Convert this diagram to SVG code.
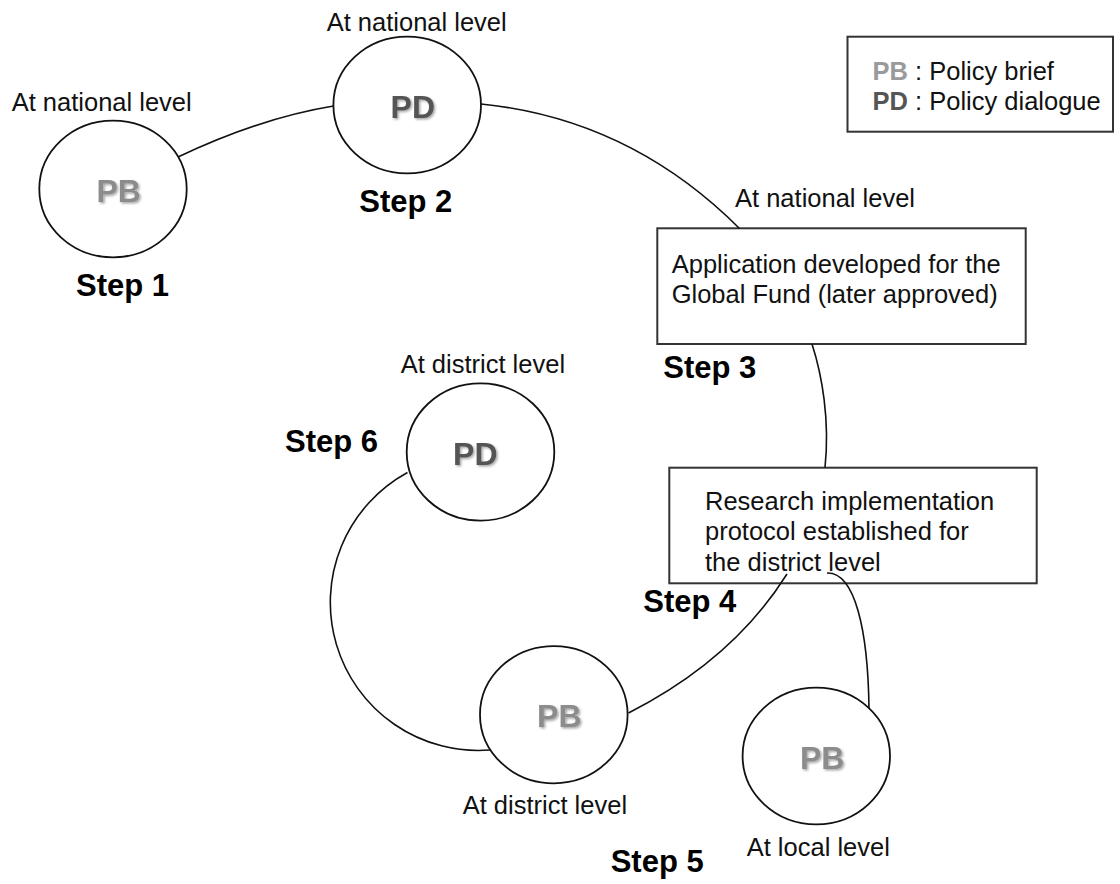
<svg xmlns="http://www.w3.org/2000/svg" width="1120" height="884" viewBox="0 0 1120 884">
  <defs>
    <filter id="sh" x="-20%" y="-20%" width="140%" height="140%">
      <feDropShadow dx="1.5" dy="1.5" stdDeviation="0.8" flood-color="#000" flood-opacity="0.35"/>
    </filter>
  </defs>
  <style>
    .t { font-family: "Liberation Sans", Arial, sans-serif; font-size: 25.5px; fill: #111; }
    .step { font-family: "Liberation Sans", Arial, sans-serif; font-size: 31px; font-weight: bold; fill: #000; }
    .pb { font-family: "Liberation Sans", Arial, sans-serif; font-size: 32px; font-weight: bold; fill: #8c8c8c; text-anchor: middle; filter: url(#sh); }
    .pd { font-family: "Liberation Sans", Arial, sans-serif; font-size: 32px; font-weight: bold; fill: #555; text-anchor: middle; filter: url(#sh); }
    .node { fill: #fff; stroke: #111; stroke-width: 1.8; }
    .box { fill: #fff; stroke: #333; stroke-width: 2; }
    .edge { fill: none; stroke: #111; stroke-width: 1.6; }
  </style>
  <rect width="1120" height="884" fill="#fff"/>

  <g id="legend">
    <rect class="box" x="847.5" y="36.7" width="265.5" height="95"/>
    <text class="t" x="872.5" y="80"><tspan font-weight="bold" fill="#9a9a9a">PB</tspan> : Policy brief</text>
    <text class="t" x="872.5" y="110"><tspan font-weight="bold" fill="#555">PD</tspan> : Policy dialogue</text>
  </g>

  <g id="step1">
    <text class="t" x="11.7" y="110.7">At national level</text>
    <ellipse class="node" cx="113" cy="189" rx="73.7" ry="68.3"/>
    <text class="pb" x="118.7" y="201.7">PB</text>
    <text class="step" x="76" y="296">Step 1</text>
  </g>

  <g id="step2">
    <text class="t" x="326.7" y="30.7">At national level</text>
    <ellipse class="node" cx="407.2" cy="105" rx="73.8" ry="68.3"/>
    <text class="pd" x="412.8" y="118.3">PD</text>
    <text class="step" x="359.3" y="211.7">Step 2</text>
  </g>

  <g id="step3">
    <text class="t" x="735" y="207">At national level</text>
    <rect class="box" x="657.3" y="228.3" width="368.4" height="115.7"/>
    <text class="t" x="671.7" y="273.3">Application developed for the</text>
    <text class="t" x="671.7" y="303.3">Global Fund (later approved)</text>
    <text class="step" x="663.3" y="378.3">Step 3</text>
  </g>

  <g id="step4">
    <rect class="box" x="669.3" y="467.7" width="367.4" height="115.6"/>
    <text class="t" x="705" y="510">Research implementation</text>
    <text class="t" x="705" y="540">protocol established for</text>
    <text class="t" x="705" y="570.7">the district level</text>
    <text class="step" x="643.3" y="611.7">Step 4</text>
  </g>

  <g id="step5-district">
    <ellipse class="node" cx="553.8" cy="714.7" rx="73.8" ry="68.6"/>
    <text class="pb" x="559.3" y="727.3">PB</text>
    <text class="t" x="462.7" y="814">At district level</text>
  </g>

  <g id="step5-local">
    <ellipse class="node" cx="816.3" cy="756" rx="73.7" ry="68.3"/>
    <text class="pb" x="822.2" y="769.3">PB</text>
    <text class="t" x="746.7" y="856">At local level</text>
  </g>

  <g id="step5-label">
    <text class="step" x="610.7" y="871.7">Step 5</text>
  </g>

  <g id="step6">
    <text class="t" x="400.7" y="373.3">At district level</text>
    <ellipse class="node" cx="480.5" cy="452" rx="73.8" ry="68.6"/>
    <text class="pd" x="475.3" y="465">PD</text>
    <text class="step" x="285" y="452">Step 6</text>
  </g>

  <g id="connectors">
    <path class="edge" d="M178,157 Q260,118 333.5,106"/>
    <path class="edge" d="M481,104 Q630,119 739.5,228.5"/>
    <path class="edge" d="M812,344 C822,375 830,420 825,467.5"/>
    <path class="edge" d="M787,574 Q733,660 628.5,713"/>
    <path class="edge" d="M827,573 C855,572 868,630 869,708.5"/>
    <path class="edge" d="M407.5,472.5 A148,148 0 0 0 490,750"/>
  </g>
</svg>
